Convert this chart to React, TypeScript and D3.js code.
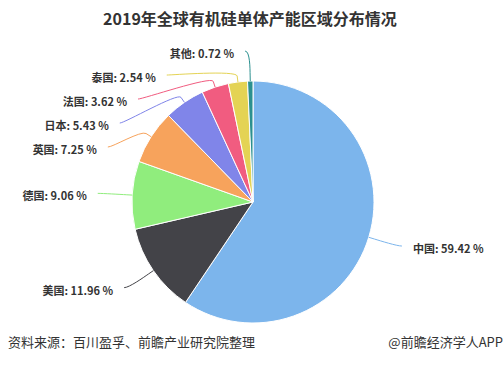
import * as d3 from 'd3';

// data
const categories = ['中国', '美国', '德国', '英国', '日本', '法国', '泰国', '其他'];
const shares = [59.42, 11.96, 9.06, 7.25, 5.43, 3.62, 2.54, 0.72];
const colors = ['#7cb5ec', '#434348', '#90ed7d', '#f7a35c', '#8085e9', '#f15c80', '#e4d354', '#2b908f'];
const title = '2019年全球有机硅单体产能区域分布情况';
const source = '资料来源：百川盈孚、前瞻产业研究院整理';
const credit = '@前瞻经济学人APP';

const W = 504;
const H = 370;
const cx = 253;
const cy = 202;
const r = 121;
const dist = 30; // label distance from the pie edge
const gap = 24; // min vertical spacing between labels
const font = '"Noto Sans CJK SC", "Noto Sans", sans-serif';

type Lab = { i: number; a: number; side: number; natY: number; y: number; x: number };

const App = () => {
  const slices = d3.pie<number>().sort(null).value((d) => d)(shares);
  const arc = d3.arc<d3.PieArcDatum<number>>().innerRadius(0).outerRadius(r);
  const R = r + dist;

  const labs: Lab[] = slices.map((s, i) => {
    const a = (s.startAngle + s.endAngle) / 2;
    const side = Math.sin(a) >= 0 ? 1 : -1;
    const natY = cy - R * Math.cos(a);
    return { i, a, side, natY, y: natY, x: 0 };
  });

  // push overlapping labels down, one side at a time
  [1, -1].forEach((side) => {
    const group = labs.filter((l) => l.side === side).sort((p, q) => p.natY - q.natY);
    let prev = -Infinity;
    group.forEach((l) => {
      l.y = Math.max(l.natY, prev + gap);
      prev = l.y;
    });
  });

  labs.forEach((l) => {
    if (l.y - l.natY < 0.5) {
      l.x = cx + R * Math.sin(l.a);
    } else {
      const dy = l.y - cy;
      l.x = cx + l.side * Math.sqrt(Math.max(0, R * R - dy * dy));
    }
  });

  const connector = (l: Lab) => {
    const sx = l.x + l.side * 4.5;
    const tx = cx + r * Math.sin(l.a);
    const ty = cy - r * Math.cos(l.a);
    const bx = cx + (r + 6) * Math.sin(l.a);
    const by = cy - (r + 6) * Math.cos(l.a);
    const p = d3.path();
    p.moveTo(sx, l.y);
    p.bezierCurveTo(sx - l.side * 5, l.y, 2 * bx - tx, 2 * by - ty, bx, by);
    p.lineTo(tx, ty);
    return p.toString();
  };

  return (
    <svg
      width={W}
      height={H}
      style={{ position: 'absolute', left: 0, top: 0, background: '#fff' }}
      fontFamily={font}
    >
      <text x={250} y={18} textAnchor="middle" dominantBaseline="central" fontSize={16} fontWeight="bold" fill="#333">
        {title}
      </text>

      <g transform={`translate(${cx},${cy})`}>
        {slices.map((s, i) => (
          <path key={i} d={arc(s) || ''} fill={colors[i]} stroke="#fff" strokeWidth={1} strokeLinejoin="round" />
        ))}
      </g>

      {labs.map((l) => (
        <g key={l.i}>
          <path d={connector(l)} fill="none" stroke={colors[l.i]} strokeWidth={1} />
          <text
            x={l.x + l.side * 15.5}
            y={l.y + 2}
            textAnchor={l.side > 0 ? 'start' : 'end'}
            dominantBaseline="central"
            fontSize={11}
            fontWeight="bold"
            fill="#333"
          >
            {`${categories[l.i]}: ${shares[l.i].toFixed(2)} %`}
          </text>
        </g>
      ))}

      <text x={8} y={341} dominantBaseline="central" fontSize={13} fill="#333">
        {source}
      </text>
      <text x={503} y={341} textAnchor="end" dominantBaseline="central" fontSize={13} fill="#333">
        {credit}
      </text>
    </svg>
  );
};

export default App;
